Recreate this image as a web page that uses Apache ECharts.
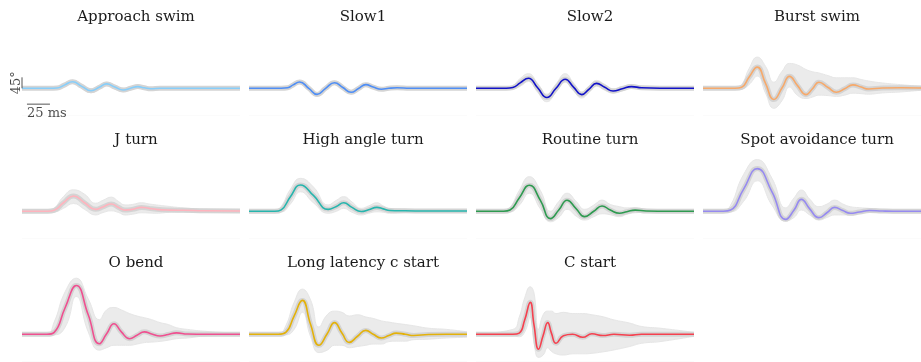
<!DOCTYPE html>
<html><head><meta charset="utf-8">
<script src="https://cdn.jsdelivr.net/npm/echarts@6/dist/echarts.min.js"></script>
<style>html,body{margin:0;padding:0;background:#fff}#c{width:921px;height:362px}</style>
</head><body><div id="c"></div>
<script>
// ---- data (time in ms, tail angle in degrees) ----
const titles = ['Approach swim','Slow1','Slow2','Burst swim','J turn','High angle turn','Routine turn','Spot avoidance turn','O bend','Long latency c start','C start'];
const colors = ['#87cefa','#4f8ef5','#1212c8','#f6a96b','#ffb3bd','#26b5ad','#2e9a50','#968af0','#ef5090','#e3b10a','#f5414f'];

const approachT     = [0,30,38,46,55,65,75,84,92,101,110,118,126,133,140,150,170,200,237];
const approachMean  = [0,0,1,13,27,8,-10,4,18,5,-7,0,7,2,-2,0,0,0,0];
const approachUpper = [2,2,5,20,34,16,-3,12,25,13,0,7,13,8,3,4,4,3,2];
const approachLower = [-2,-2,-2,6,20,0,-18,-4,11,-3,-14,-6,1,-4,-7,-4,-3,-2,-2];

const slow1T     = [0,35,42,48,55,65,74,83,93,102,111,119,127,135,144,152,161,175,200,237];
const slow1Mean  = [0,0,2,14,26,0,-25,-1,23,3,-16,-1,15,5,-4,0,2,0,0,0];
const slow1Upper = [2,2,5,20,32,8,-18,7,30,11,-9,6,21,11,2,5,6,3,2,2];
const slow1Lower = [-2,-2,-1,8,20,-8,-32,-9,16,-5,-23,-8,9,-1,-9,-5,-2,-2,-2,-2];

const slow2T     = [0,33,40,48,57,67,77,87,97,106,115,123,131,140,149,159,169,180,200,237];
const slow2Mean  = [0,0,3,22,41,2,-38,0,37,5,-26,-3,20,4,-11,-2,7,2,0,0];
const slow2Upper = [2,2,10,40,60,20,-24,18,60,22,-14,10,32,16,-2,8,14,8,3,2];
const slow2Lower = [-2,-2,-2,8,28,-16,-55,-16,24,-10,-40,-16,8,-8,-20,-10,0,-3,-3,-2];

const burstT     = [0,35,42,50,59,68,77,86,94,103,112,119,126,136,145,154,163,172,180,195,215,237];
const burstMean  = [0,0,4,45,87,20,-46,2,49,10,-26,-2,25,3,-16,-2,14,5,-3,1,2,1];
const burstUpper = [2,2,15,80,128,90,25,70,102,95,77,68,63,52,43,43,43,36,30,22,15,8];
const burstLower = [-2,-2,-2,15,50,-20,-82,-50,5,-30,-42,-36,-28,-30,-33,-28,-20,-22,-24,-19,-15,-8];

const jturnT     = [0,28,35,45,56,68,80,88,97,105,112,120,130,138,146,160,175,200,237];
const jturnMean  = [0,0,4,35,63,35,8,18,30,16,5,8,16,12,8,5,4,2,1];
const jturnUpper = [2,2,12,60,88,70,33,45,58,40,26,28,35,30,26,20,14,8,4];
const jturnLower = [-2,-2,-2,12,32,8,-15,-5,2,-5,-15,-12,-6,-7,-8,-4,-2,-2,-2];

const highT     = [0,28,35,45,56,70,86,95,103,112,122,130,139,146,153,170,200,237];
const highMean  = [0,0,6,60,108,65,8,20,35,16,-1,6,16,10,3,2,1,1];
const highUpper = [2,2,20,90,135,100,26,45,60,38,12,22,35,22,12,8,5,3];
const highLower = [-2,-2,-2,30,80,35,-8,0,12,-4,-15,-8,-2,-4,-8,-5,-3,-2];

const routineT     = [0,30,37,47,58,70,81,90,99,109,118,128,137,146,156,164,173,185,210,237];
const routineMean  = [0,0,5,55,107,45,-30,5,45,10,-22,0,22,5,-8,-2,5,1,0,0];
const routineUpper = [2,2,15,85,142,85,0,40,74,40,8,25,46,28,19,14,15,8,4,3];
const routineLower = [-2,-2,-2,25,74,10,-43,-25,8,-20,-36,-22,-10,-14,-22,-12,-6,-4,-3,-2];

const spotT     = [0,22,30,44,59,75,90,99,107,116,126,135,143,152,160,170,181,195,215,237];
const spotMean  = [0,0,5,90,175,80,-33,5,49,10,-26,-5,16,3,-8,-3,3,1,0,0];
const spotUpper = [2,2,25,150,212,135,14,55,87,50,19,30,46,30,19,15,12,8,5,3];
const spotLower = [-2,-2,-2,40,125,25,-40,-25,5,-15,-36,-25,-15,-15,-15,-8,-4,-4,-3,-2];

const obendT     = [0,27,35,47,59,72,84,92,100,108,117,125,133,141,150,159,168,180,200,237];
const obendMean  = [0,0,8,110,200,80,-39,2,43,10,-18,-4,10,1,-7,-1,6,1,0,0];
const obendUpper = [2,2,50,175,230,145,60,100,110,100,85,75,68,60,48,40,27,20,12,4];
const obendLower = [-2,-2,-2,30,155,10,-65,-55,-45,-45,-45,-40,-34,-32,-29,-24,-18,-15,-7,-4];

const longT     = [0,32,40,49,58,67,76,85,93,101,109,118,127,135,144,152,160,170,179,195,215,237];
const longMean  = [0,0,8,75,139,40,-45,2,48,5,-33,-8,16,0,-15,-5,5,0,-5,-1,0,0];
const longUpper = [2,2,35,130,185,140,30,80,95,90,75,80,71,65,55,50,45,40,35,25,20,10];
const longLower = [-2,-2,-2,20,90,-10,-75,-65,-45,-45,-55,-50,-45,-40,-40,-30,-28,-28,-22,-20,-15,-12];

const cstartT     = [0,40,47,53,59,63,68,73,78,82,87,95,105,116,126,138,150,167,180,200,237];
const cstartMean  = [0,0,5,60,131,40,-61,-5,48,5,-37,-6,0,-12,2,-5,0,-4,0,0,0];
const cstartUpper = [2,20,70,150,195,170,20,80,95,95,85,90,85,85,80,72,59,46,32,25,8];
const cstartLower = [-2,-5,-10,10,70,-30,-95,-85,-55,-70,-80,-85,-80,-80,-78,-72,-64,-50,-37,-30,-8];

const scaleAngle = 45;   // degrees
const scaleTime = 25;    // ms

// ---- assembly ----
const panels = [
  [approachT, approachMean, approachUpper, approachLower],
  [slow1T, slow1Mean, slow1Upper, slow1Lower],
  [slow2T, slow2Mean, slow2Upper, slow2Lower],
  [burstT, burstMean, burstUpper, burstLower],
  [jturnT, jturnMean, jturnUpper, jturnLower],
  [highT, highMean, highUpper, highLower],
  [routineT, routineMean, routineUpper, routineLower],
  [spotT, spotMean, spotUpper, spotLower],
  [obendT, obendMean, obendUpper, obendLower],
  [longT, longMean, longUpper, longLower],
  [cstartT, cstartMean, cstartUpper, cstartLower]
];

const colLeft = [22, 249, 476, 703];
const panelW = 218;
const rowBase = [88.3, 211.3, 334.3];
const yMin = -110, yMax = 250, degPerPx = 4.1;
const gridH = (yMax - yMin) / degPerPx;

const grids = [], xAxes = [], yAxes = [], series = [], titleOpts = [];
const serif = 'DejaVu Serif';

panels.forEach((p, i) => {
  const col = i % 4, row = Math.floor(i / 4);
  const [t, mean, up, lo] = p;
  grids.push({left: colLeft[col], top: rowBase[row] - yMax / degPerPx, width: panelW, height: gridH});
  xAxes.push({gridIndex: i, type: 'value', min: 0, max: 237, show: false});
  yAxes.push({gridIndex: i, type: 'value', min: yMin, max: yMax, show: false});
  titleOpts.push({
    text: titles[i], left: colLeft[col] + panelW / 2, top: rowBase[row] - 84, textAlign: 'center',
    textStyle: {fontFamily: serif, fontSize: 15, fontWeight: 'normal', color: '#1a1a1a'}
  });
  const common = {xAxisIndex: i, yAxisIndex: i, type: 'line', symbol: 'none', smooth: true, silent: true, animation: false};
  // grey cloud: upper envelope filled down to the axis floor, then the lower envelope masked in white
  series.push(Object.assign({}, common, {
    data: t.map((x, k) => [x, up[k]]), lineStyle: {color: '#e6e6e6', width: 1},
    areaStyle: {color: '#ebebeb', opacity: 1, origin: 'start'}
  }));
  series.push(Object.assign({}, common, {
    data: t.map((x, k) => [x, lo[k]]), lineStyle: {color: '#e6e6e6', width: 1},
    areaStyle: {color: '#ffffff', opacity: 1, origin: 'start'}
  }));
  series.push(Object.assign({}, common, {
    data: t.map((x, k) => [x, mean[k]]), lineStyle: {color: '#d4d4d4', width: 5}
  }));
  series.push(Object.assign({}, common, {
    data: t.map((x, k) => [x, mean[k]]), lineStyle: {color: colors[i], width: 1.6}
  }));
});

// scale bars in the first panel
const sb = {xAxisIndex: 0, yAxisIndex: 0, animation: false, silent: true, clip: false, z: 5};
series.push(Object.assign({}, sb, {type: 'line', symbol: 'none',
  data: [[0, 0], [0, scaleAngle]], lineStyle: {color: '#555', width: 1}}));
series.push(Object.assign({}, sb, {type: 'line', symbol: 'none',
  data: [[5.4, -65], [5.4 + scaleTime, -65]], lineStyle: {color: '#555', width: 1}}));
series.push(Object.assign({}, sb, {type: 'scatter', symbolSize: 0,
  data: [[0, scaleAngle / 2]],
  label: {show: true, formatter: scaleAngle + '°', position: 'left', distance: 5, rotate: 90,
    align: 'center', verticalAlign: 'middle', fontFamily: serif, fontSize: 13, color: '#1a1a1a'}}));
series.push(Object.assign({}, sb, {type: 'scatter', symbolSize: 0,
  data: [[5.4, -65]],
  label: {show: true, formatter: scaleTime + ' ms', position: [0, 3], align: 'left', verticalAlign: 'top',
    fontFamily: serif, fontSize: 13, color: '#1a1a1a'}}));

const chart = echarts.init(document.getElementById('c'), null, {renderer: 'canvas'});
chart.setOption({
  animation: false,
  backgroundColor: '#fff',
  title: titleOpts,
  grid: grids, xAxis: xAxes, yAxis: yAxes, series: series
});
</script></body></html>
